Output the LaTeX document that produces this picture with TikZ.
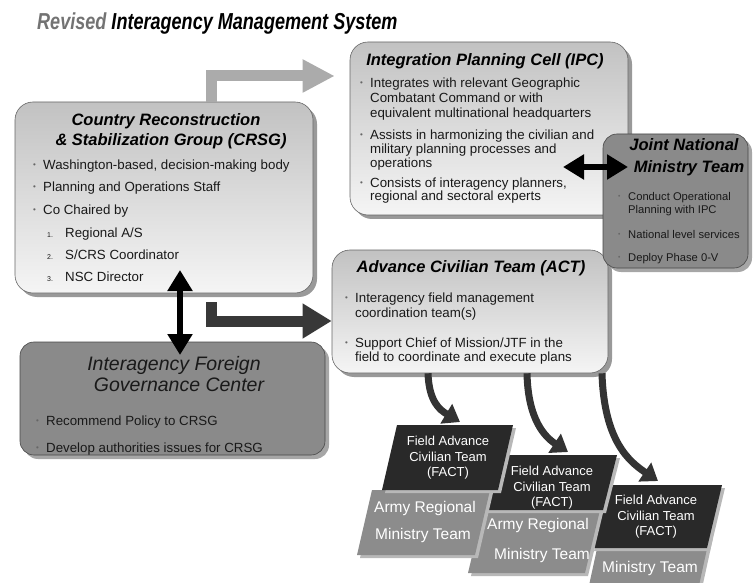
\documentclass[tikz,border=0pt]{standalone}
\usepackage{fontspec}
\setmainfont{Liberation Sans}
\usetikzlibrary{arrows.meta,shadows}
\newcommand\bu{\makebox[10pt][l]{\textcolor{black!60}{\raisebox{0.3ex}{\scalebox{0.6}{\textbullet}}}}}
\newcommand\numb[1]{\makebox[18pt][l]{\fontsize{7}{8}\selectfont #1}}
\newcommand\tline[5]{\node[#1] (#2) at (#3,#4) {#5};}
\begin{document}
\begin{tikzpicture}[x=1pt,y=-1pt,
  lbox/.style={draw=black!60, line width=0.6pt, rounded corners=18pt,
    top color=black!24, bottom color=black!4, inner sep=0pt,
    drop shadow={shadow xshift=4pt, shadow yshift=-4pt, fill=black!40, opacity=1}},
  dbox/.style={draw=black!72, line width=0.6pt, rounded corners=14pt,
    fill=black!46, inner sep=0pt,
    drop shadow={shadow xshift=4pt, shadow yshift=-4pt, fill=black!35, opacity=1}},
  body/.style={font=\fontsize{13.3}{15}\selectfont, inner sep=0pt, anchor=mid west, text=black!90},
  small/.style={font=\fontsize{11.2}{13}\selectfont, inner sep=0pt, anchor=mid west, text=black!90},
  ttl/.style={font=\fontsize{16.5}{19}\selectfont\bfseries\itshape, inner sep=0pt, anchor=mid},
  ittl/.style={font=\fontsize{19.5}{22}\selectfont\itshape, inner sep=0pt, anchor=mid, text=black!90},
  facttxt/.style={font=\fontsize{13}{15.5}\selectfont, inner sep=0pt, anchor=center, text=white, align=center},
  armytxt/.style={font=\fontsize{15.5}{18}\selectfont, inner sep=0pt, anchor=mid, text=white},
  garrow/.style={draw=black!33, line width=11pt, -{Triangle[length=32pt,width=31pt]}},
  darrow/.style={draw=black!78, line width=11pt, -{Triangle[length=29pt,width=33pt]}},
  barrow/.style={draw=black, line width=6pt, {Triangle[length=21pt,width=24pt]}-{Triangle[length=21pt,width=24pt]}},
  carrow/.style={draw=black!80, line width=7pt, -{Triangle[length=16pt,width=22pt]}},
  factdark/.style={fill=black!84},
  factgray/.style={fill=black!45},
  factshadow/.style={fill=black!28}
]
\useasboundingbox (0,0) rectangle (753,583);
\clip (0,0) rectangle (753,583);

% title
\node[anchor=west, inner sep=0pt] (title) at (37,24)
  {\scalebox{0.86}[1.1]{\fontsize{21}{24}\selectfont\bfseries\itshape\textcolor{black!55}{Revised} Interagency Management System}};

% boxes
\node[lbox, minimum width=298pt, minimum height=191pt] (crsg) at (164,197.5) {};
\node[lbox, minimum width=278pt, minimum height=173pt] (ipc) at (489,128.5) {};
\node[lbox, minimum width=276pt, minimum height=123pt] (act) at (470,311.5) {};
\node[dbox, minimum width=305pt, minimum height=113pt] (ifgc) at (172.5,398.5) {};
\node[dbox, minimum width=145pt, minimum height=134pt] (jnmt) at (675.5,201) {};

% coordinates for connector ends
\coordinate (ga) at (211.5,76);
\coordinate (da) at (211.5,321);
\coordinate (vtop) at (180,270);
\coordinate (vbot) at (180,355);
\coordinate (hl) at (563,167);
\coordinate (hr) at (628,167);

% arrows
\draw[garrow] (crsg.north -| ga) |- ([xshift=-15pt]ipc.west |- ga);
\draw[darrow] ([yshift=-9pt]crsg.south -| da) |- (act.west |- da);
\draw[barrow] (vtop) -- (vbot);
\draw[barrow] (hl) -- (hr);

% CRSG text
\tline{ttl}{crsgt1}{166}{123}{Country Reconstruction}
\tline{ttl}{crsgt2}{171}{143}{\& Stabilization Group (CRSG)}
\tline{body}{crsgb1}{33}{167}{\bu Washington-based, decision-making body}
\tline{body}{crsgb2}{33}{189}{\bu Planning and Operations Staff}
\tline{body}{crsgb3}{33}{212}{\bu Co Chaired by}
\tline{body}{crsgn1}{47}{235}{\numb{1.}Regional  A/S}
\tline{body}{crsgn2}{47}{257}{\numb{2.}S/CRS Coordinator}
\tline{body}{crsgn3}{47}{279}{\numb{3.}NSC Director}

% IPC text
\tline{ttl}{ipct}{485}{63}{Integration Planning Cell (IPC)}
\tline{body}{ipc1}{360}{85}{\bu Integrates with relevant Geographic}
\tline{body}{ipc2}{370}{100}{Combatant Command or with}
\tline{body}{ipc3}{370}{115}{equivalent multinational headquarters}
\tline{body}{ipc4}{360}{137}{\bu Assists in harmonizing the civilian and}
\tline{body}{ipc5}{370}{151}{military planning processes and}
\tline{body}{ipc6}{370}{165}{operations}
\tline{body}{ipc7}{360}{185}{\bu Consists of interagency planners,}
\tline{body}{ipc8}{370}{198}{regional and sectoral experts}

% JNMT text
\tline{ttl}{jnmtt1}{684}{148}{Joint National}
\tline{ttl}{jnmtt2}{689}{170}{Ministry Team}
\tline{small}{jnmt1}{618}{198}{\bu Conduct Operational}
\tline{small}{jnmt2}{628}{211}{Planning with IPC}
\tline{small}{jnmt3}{618}{236}{\bu National level services}
\tline{small}{jnmt4}{618}{259}{\bu Deploy Phase 0-V}

% ACT text
\tline{ttl}{actt}{471}{270}{Advance Civilian Team (ACT)}
\tline{body}{act1}{345}{300}{\bu Interagency field management}
\tline{body}{act2}{355}{315}{coordination team(s)}
\tline{body}{act3}{345}{345}{\bu Support Chief of Mission/JTF in the}
\tline{body}{act4}{355}{359}{field to coordinate and execute plans}

% IFGC text
\tline{ittl}{ifgct1}{174}{368}{Interagency Foreign}
\tline{ittl}{ifgct2}{179}{389}{Governance Center}
\tline{body}{ifgc1}{36}{423}{\bu Recommend Policy to CRSG}
\tline{body}{ifgc2}{36}{450}{\bu Develop authorities issues for CRSG}

% FACT stacks (back to front)
% set 3
\fill[factshadow] (603,538) -- (713,538) -- (701,593) -- (591,593) -- cycle;
\fill[factgray] (600,535) -- (710,535) -- (698,590) -- (588,590) -- cycle;
\fill[factshadow] (609,488) -- (725,488) -- (710,551) -- (594,551) -- cycle;
\fill[factdark] (606,485) -- (722,485) -- (707,548) -- (591,548) -- cycle;
\node[facttxt] (fact3) at (656,517) {Field Advance\\Civilian Team\\(FACT)};
\node[armytxt] (army3) at (650,570) {Ministry Team};
% set 2
\fill[factshadow] (486,513) -- (603,513) -- (588,576) -- (471,576) -- cycle;
\fill[factgray] (483,510) -- (600,510) -- (585,573) -- (468,573) -- cycle;
\fill[factshadow] (495,458) -- (620,458) -- (606,513) -- (481,513) -- cycle;
\fill[factdark] (492,455) -- (617,455) -- (603,510) -- (478,510) -- cycle;
\node[facttxt] (fact2) at (552,488) {Field Advance\\Civilian Team\\(FACT)};
\node[armytxt] (army2a) at (538,527) {Army Regional};
\node[armytxt] (army2b) at (542,557) {Ministry Team};
% set 1
\fill[factshadow] (375,493) -- (493,493) -- (478,558) -- (360,558) -- cycle;
\fill[factgray] (372,490) -- (490,490) -- (475,555) -- (357,555) -- cycle;
\fill[factshadow] (400,428) -- (516,428) -- (501,493) -- (385,493) -- cycle;
\fill[factdark] (397,425) -- (513,425) -- (498,490) -- (382,490) -- cycle;
\node[facttxt] (fact1) at (448,458) {Field Advance\\Civilian Team\\(FACT)};
\node[armytxt] (army1a) at (425,510) {Army Regional};
\node[armytxt] (army1b) at (423,537) {Ministry Team};

% curved arrows from ACT to FACT teams
\coordinate (c1) at (460,422);
\coordinate (c2) at (568,452);
\coordinate (c3) at (658,481);
\draw[carrow] (act.south -| 428,0) .. controls (429,402) and (440,410) .. (c1);
\draw[carrow] (act.south -| 527,0) .. controls (528,420) and (545,437) .. (c2);
\draw[carrow] (act.south -| 602,0) .. controls (604,442) and (630,462) .. (c3);
\end{tikzpicture}
\end{document}
